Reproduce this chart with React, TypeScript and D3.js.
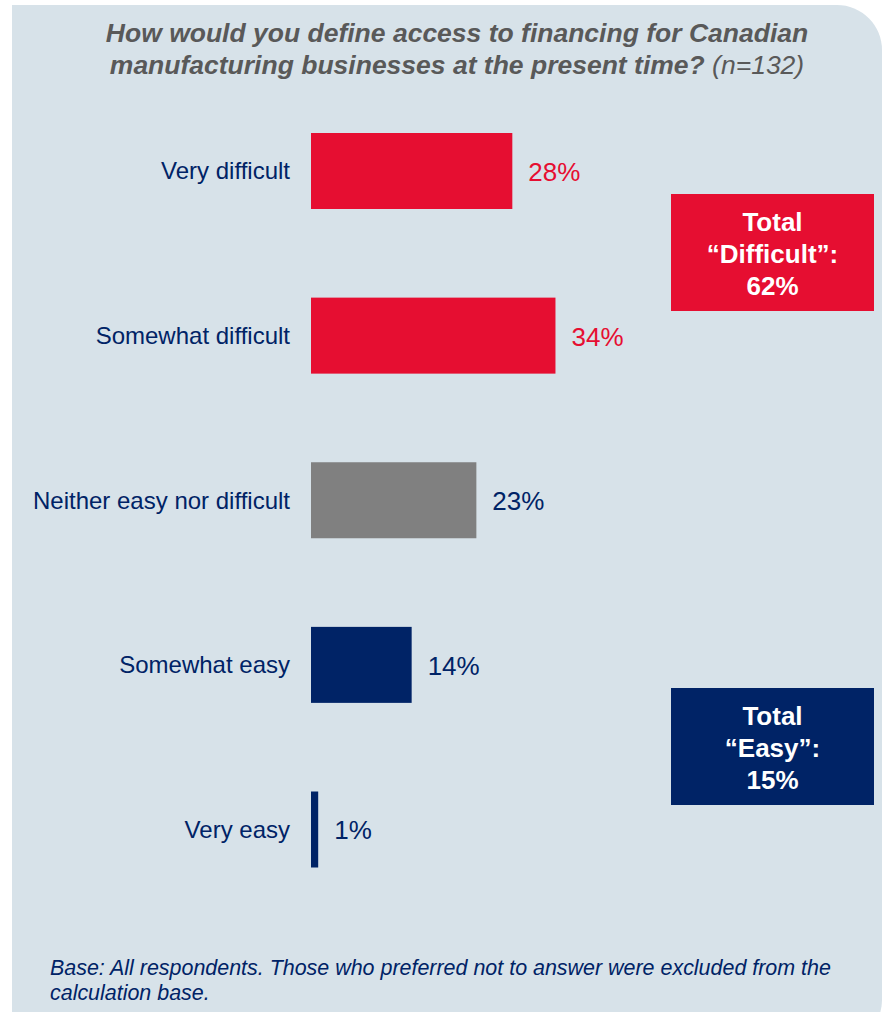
import React from "react";
import * as d3 from "d3";

const categories = [
  "Very difficult",
  "Somewhat difficult",
  "Neither easy nor difficult",
  "Somewhat easy",
  "Very easy",
];
const values = [28, 34, 23, 14, 1];
const groups = ["difficult", "difficult", "neutral", "easy", "easy"];

const summaryLabels = [
  ["Total", "\u201cDifficult\u201d:", "62%"],
  ["Total", "\u201cEasy\u201d:", "15%"],
];

const titleLines = [
  "How would you define access to financing for Canadian",
  "manufacturing businesses at the present time?",
];
const sampleNote = "(n=132)";
const footnoteLines = [
  "Base: All respondents. Those who preferred not to answer were excluded from the",
  "calculation base.",
];

const W = 882;
const H = 1012;
const FONT = "'Liberation Sans', Arial, Helvetica, sans-serif";
const RED = "#E60E31";
const NAVY = "#002366";
const GRAY = "#808080";
const TITLE = "#595959";
const PANEL = "#D7E2E9";

const fillFor: Record<string, string> = { difficult: RED, neutral: GRAY, easy: NAVY };
const textFor: Record<string, string> = { difficult: RED, neutral: NAVY, easy: NAVY };

export default function App() {
  const x = d3.scaleLinear().domain([0, 100]).range([311, 1030]);
  const y = d3.scalePoint<string>().domain(categories).range([171, 829.5]);
  const barH = 76;

  // panel: square left corners, rounded right corners
  const px = 12, py = 5, pw = W - 12, ph = 1040, r = 45;
  const panelPath = `M${px},${py} H${px + pw - r} A${r},${r} 0 0 1 ${px + pw},${py + r} V${py + ph - r} A${r},${r} 0 0 1 ${px + pw - r},${py + ph} H${px} Z`;

  const boxes = [
    { y0: 194, y1: 311, color: RED, lines: summaryLabels[0] },
    { y0: 688, y1: 805, color: NAVY, lines: summaryLabels[1] },
  ];

  return (
    <svg
      width={W}
      height={H}
      style={{ position: "absolute", left: 0, top: 0, display: "block" }}
      fontFamily={FONT}
    >
      <rect width={W} height={H} fill="#ffffff" />
      <path d={panelPath} fill={PANEL} />

      <g fontWeight="bold" fontStyle="italic" fontSize={26.5} fill={TITLE} textAnchor="middle">
        <text x={457} y={42}>{titleLines[0]}</text>
        <text x={457} y={73.5}>
          {titleLines[1]}{" "}
          <tspan fontWeight="normal">{sampleNote}</tspan>
        </text>
      </g>

      {categories.map((c, i) => {
        const cy = y(c)!;
        const g = groups[i];
        const x1 = x(values[i]);
        return (
          <g key={c}>
            <rect x={x(0)} y={cy - barH / 2} width={x1 - x(0)} height={barH} fill={fillFor[g]} />
            <text x={290} y={cy} dy="0.35em" textAnchor="end" fontSize={24} fill={NAVY}>
              {c}
            </text>
            <text x={x1 + 16} y={cy} dy="0.38em" fontSize={26} fill={textFor[g]}>
              {values[i]}%
            </text>
          </g>
        );
      })}

      {boxes.map((b, i) => (
        <g key={i}>
          <rect x={671} y={b.y0} width={203} height={b.y1 - b.y0} fill={b.color} />
          {b.lines.map((l, j) => (
            <text
              key={j}
              x={772.5}
              y={b.y0 + 36.5 + j * 32}
              textAnchor="middle"
              fontWeight="bold"
              fontSize={26}
              fill="#ffffff"
            >
              {l}
            </text>
          ))}
        </g>
      ))}

      <g fontStyle="italic" fontSize={21.45} fill={NAVY}>
        {footnoteLines.map((l, i) => (
          <text key={i} x={50} y={975 + i * 24.5}>{l}</text>
        ))}
      </g>
    </svg>
  );
}
